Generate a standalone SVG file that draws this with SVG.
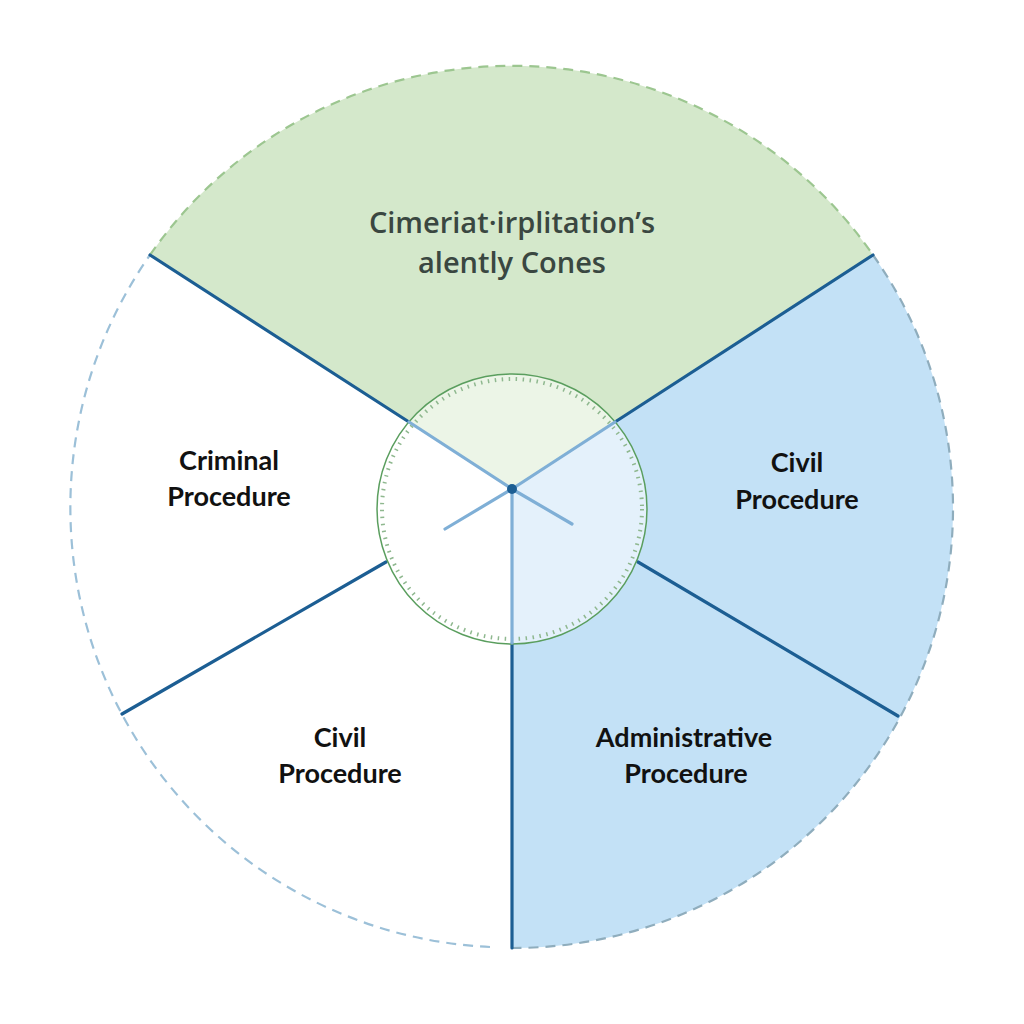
<svg xmlns="http://www.w3.org/2000/svg" width="1024" height="1024" viewBox="0 0 1024 1024">
<style>
.lbl{font-family:Lato,"Open Sans","Liberation Sans",sans-serif;font-weight:700;font-size:27px;fill:#111;text-anchor:middle}
.ttl{font-family:"Open Sans",Lato,"Liberation Sans",sans-serif;font-weight:600;font-size:29px;fill:#3a4741;text-anchor:middle}
.ray{stroke:#1c5e93;stroke-width:3.2;fill:none;stroke-linecap:round}
.inray{stroke:#7fafd6;stroke-width:3.2;fill:none;stroke-linecap:round}
.edge{fill:none;stroke-width:2.2;stroke-dasharray:10 7}
</style>
<rect width="1024" height="1024" fill="#ffffff"/>
<g id="sectors">
<path id="sector-top" d="M512 489 L150 255 A440 440 0 0 1 873 255 Z" fill="#d4e8cb"/>
<path id="sector-right" d="M512 489 L873 255 A440 440 0 0 1 512 948 Z" fill="#c3e1f6"/>
</g>
<g id="outline">
<path class="edge" d="M150 255 A440 440 0 0 1 873 255" stroke="#9cc690"/>
<path class="edge" d="M873 255 A440 440 0 0 1 512 948" stroke="#8fadbd"/>
<path class="edge" d="M490 947 A440 440 0 0 1 150 255" stroke="#9cc0d8"/>
</g>
<g id="connectors">
<line class="ray" x1="150" y1="255" x2="409" y2="422"/>
<line class="ray" x1="873" y1="255" x2="615" y2="422"/>
<line class="ray" x1="122" y1="714" x2="386" y2="562"/>
<line class="ray" x1="898" y1="716" x2="638" y2="562"/>
<line class="ray" x1="512" y1="643" x2="512" y2="948"/>
</g>
<g id="hub">
<circle cx="512" cy="509" r="135" fill="#ffffff" fill-opacity="0.55" stroke="#5a9e5e" stroke-width="1.5"/>
<circle cx="512" cy="509" r="130" fill="none" stroke="#8fb88f" stroke-width="4" stroke-dasharray="1.5 5.5"/>
<line class="inray" x1="512" y1="489" x2="409" y2="422"/>
<line class="inray" x1="512" y1="489" x2="615" y2="422"/>
<line class="inray" x1="512" y1="489" x2="512" y2="643"/>
<line class="inray" x1="512" y1="489" x2="445" y2="529"/>
<line class="inray" x1="512" y1="489" x2="572" y2="524"/>
<circle cx="512" cy="489" r="5" fill="#1c5e93"/>
</g>
<g id="node-title">
<text class="ttl" x="512" y="233">Cimeriat·irplitation’s</text>
<text class="ttl" x="512" y="273">alently Cones</text>
</g>
<g id="node-criminal">
<text class="lbl" x="229" y="470">Criminal</text>
<text class="lbl" x="229" y="506">Procedure</text>
</g>
<g id="node-civil-right">
<text class="lbl" x="797" y="472">Civil</text>
<text class="lbl" x="797" y="509">Procedure</text>
</g>
<g id="node-civil-left">
<text class="lbl" x="340" y="747">Civil</text>
<text class="lbl" x="340" y="783">Procedure</text>
</g>
<g id="node-administrative">
<text class="lbl" x="684" y="747">Administrative</text>
<text class="lbl" x="686" y="783">Procedure</text>
</g>
</svg>
